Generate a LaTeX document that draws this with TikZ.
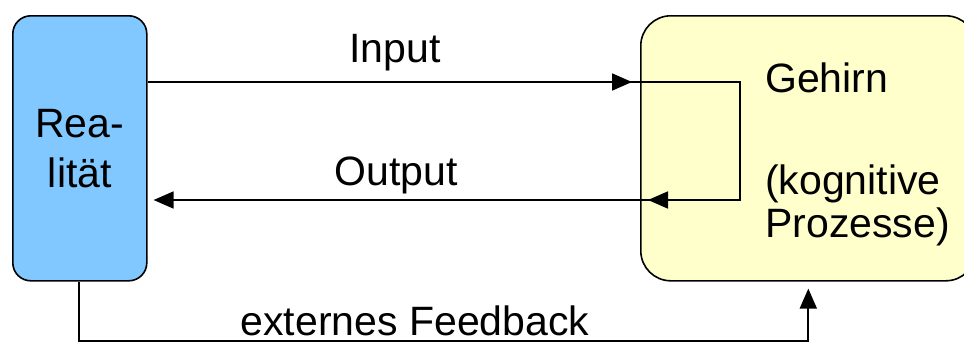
\documentclass[tikz,border=0pt]{standalone}
\usepackage{fontspec}
\setmainfont{Liberation Sans}
\usetikzlibrary{arrows.meta,calc}
\definecolor{realblue}{HTML}{80C8FF}
\definecolor{brainyellow}{HTML}{FFFFCC}
\begin{document}
\begin{tikzpicture}[x=1pt,y=-1pt,
  box/.style={draw=black,line width=1.6pt,rounded corners=#1,anchor=north west,inner sep=0pt},
  conn/.style={line width=1.8pt,draw=black},
  arr/.style={conn,-{Triangle[length=20pt,width=17pt]}},
  lbl/.style={font=\fontsize{41}{50}\selectfont,inner sep=0pt,anchor=base},
  lblw/.style={lbl,anchor=base west}]
\useasboundingbox (0,0) rectangle (964,343);
\clip (0,0) rectangle (964,343);
\fill[white] (0,0) rectangle (964,343);
% boxes
\node[box=18pt,fill=realblue,minimum width=134pt,minimum height=265pt] (real) at (12,15) {};
\node[box=30pt,fill=brainyellow,minimum width=335pt,minimum height=265pt] (brain) at (640,15) {};
\node[font=\fontsize{41}{50}\selectfont,align=center,inner sep=0pt] (realtext) at (real.center) {Rea-\\lität};
\node[lblw] (gehirn) at (765,92) {Gehirn};
\node[lblw] (kog) at (765,194) {(kognitive};
\node[lblw] (proz) at (765,237) {Prozesse)};
% turning points
\coordinate (t1) at (740,82);
\coordinate (t2) at (740,200);
\coordinate (fb) at (0,341);
% input
\draw[arr] (real.east |- t1) -- ([xshift=-8pt]brain.west |- t1);
\draw[conn] ([xshift=-10pt]brain.west |- t1) -- (t1) -- (t2) -- ([xshift=8pt]brain.west |- t2);
% output
\draw[arr] (t2) -- ([xshift=8pt]brain.west |- t2);
\draw[arr,shorten >=6pt] ([xshift=8pt]brain.west |- t2) -- (real.east |- t2);
% feedback
\draw[arr,shorten >=7pt] ([xshift=-1pt]real.south) -- ([xshift=-1pt]real.south |- fb) -- (brain.south |- fb) -- (brain.south);
% labels
\node[lbl] (inlbl) at (395,62) {Input};
\node[lbl] (outlbl) at (396,185) {Output};
\node[lbl] (fblbl) at (415,335) {externes Feedback};
\end{tikzpicture}
\end{document}
